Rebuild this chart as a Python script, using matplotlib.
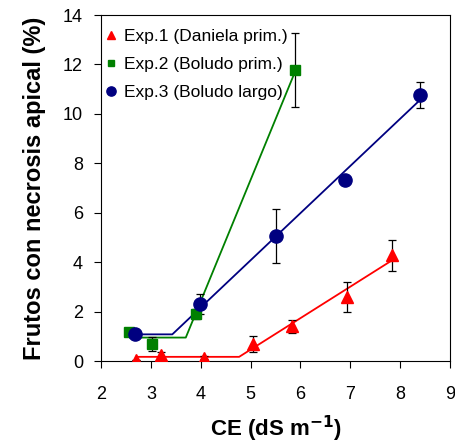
import matplotlib.pyplot as plt

plt.rcParams['font.family'] = ['Liberation Sans', 'DejaVu Sans']

# Exp.1 (Daniela prim.)
x1 = [2.7, 3.2, 4.06, 5.05, 5.83, 6.94, 7.84]
y1 = [0.05, 0.26, 0.14, 0.68, 1.4, 2.6, 4.28]
e1 = [0.0, 0.12, 0.05, 0.32, 0.25, 0.6, 0.62]
fit1_x = [2.7, 4.77, 7.84]
fit1_y = [0.17, 0.17, 4.08]

# Exp.2 (Boludo prim.)
x2 = [2.57, 3.02, 3.9, 5.89]
y2 = [1.18, 0.68, 1.92, 11.77]
e2 = [0.1, 0.28, 0.2, 1.5]
fit2_x = [2.58, 3.7, 5.89]
fit2_y = [0.95, 0.95, 11.7]

# Exp.3 (Boludo largo)
x3 = [2.69, 3.99, 5.51, 6.9, 8.39]
y3 = [1.1, 2.32, 5.06, 7.34, 10.77]
e3 = [0.05, 0.4, 1.1, 0.15, 0.52]
fit3_x = [2.69, 3.43, 8.39]
fit3_y = [1.08, 1.08, 10.55]

fig = plt.figure(figsize=(4.56, 4.43), dpi=100)
ax = fig.add_axes([0.2215, 0.185, 0.7655, 0.781])

ax.plot(fit1_x, fit1_y, color='red', lw=1.3, zorder=2)
ax.plot(fit2_x, fit2_y, color='green', lw=1.3, zorder=2)
ax.plot(fit3_x, fit3_y, color='navy', lw=1.3, zorder=2)

ax.errorbar(x1, y1, yerr=e1, fmt='^', color='red', ms=8, ecolor='black',
            elinewidth=0.9, capsize=3, capthick=0.9, label='Exp.1 (Daniela prim.)', zorder=3)
ax.errorbar(x2, y2, yerr=e2, fmt='s', color='green', ms=7, ecolor='black',
            elinewidth=0.9, capsize=3, capthick=0.9, label='Exp.2 (Boludo prim.)', zorder=3)
ax.errorbar(x3, y3, yerr=e3, fmt='o', color='navy', ms=9.5, ecolor='black',
            elinewidth=0.9, capsize=3, capthick=0.9, label='Exp.3 (Boludo largo)', zorder=3)

ax.set_xlim(2, 9)
ax.set_ylim(0, 14)
ax.set_xticks(range(2, 10))
ax.set_yticks(range(0, 15, 2))
ax.tick_params(labelsize=13, direction='out', length=5)
ax.tick_params(axis='x', pad=13)
ax.tick_params(axis='y', pad=8)
ax.set_xlabel('CE (dS m$^{\\mathbf{-1}}$)', fontsize=16, fontweight='bold', labelpad=8)
ax.set_ylabel('Frutos con necrosis apical (%)', fontsize=17, fontweight='bold', labelpad=12)

handles, labels = ax.get_legend_handles_labels()
handles = [h[0] for h in handles]
ax.legend(handles, labels, loc='upper left', bbox_to_anchor=(-0.02, 0.98), frameon=False,
          fontsize=12.5, handletextpad=0.1, handlelength=1.2, borderaxespad=0,
          labelspacing=0.75, markerscale=0.7)

fig.savefig('out.png', dpi=100)
